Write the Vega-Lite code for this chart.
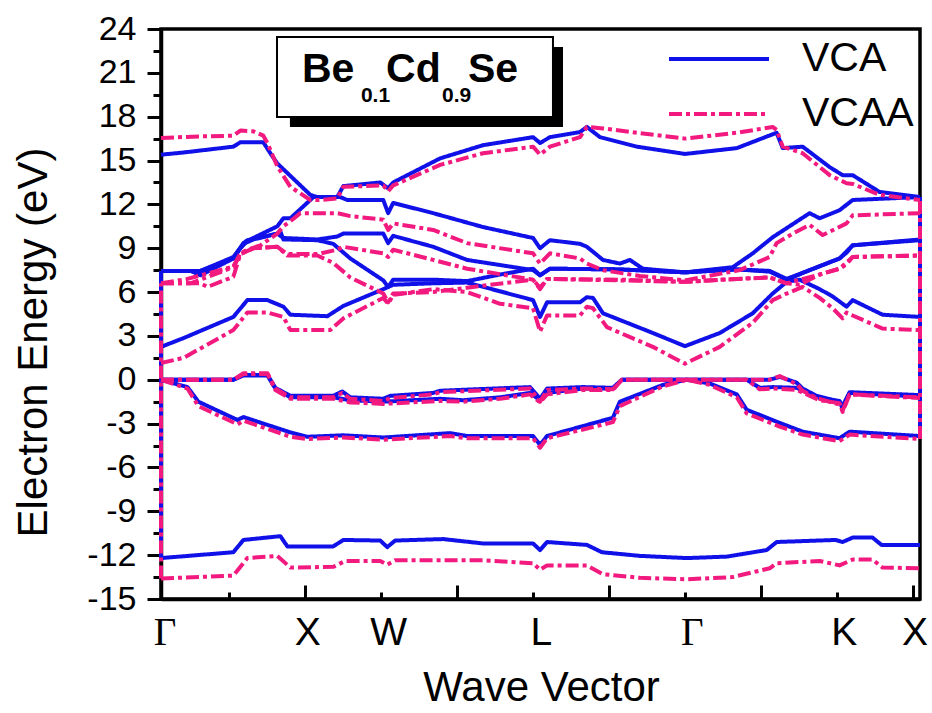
{
  "$schema": "https://vega.github.io/schema/vega-lite/v6.json",
  "width": 759,
  "height": 570,
  "autosize": "none",
  "padding": {"left": 161, "top": 29, "right": 12, "bottom": 114},
  "config": {
    "view": {"stroke": "black", "strokeWidth": 3.5},
    "font": "Liberation Sans"
  },
  "datasets": {
    "bands": [
      {"m":"VCA","b":"V1","k":0.054,"E":-12.2},{"m":"VCA","b":"V1","k":0.530,"E":-11.8},{"m":"VCA","b":"V1","k":0.596,"E":-10.96},{"m":"VCA","b":"V1","k":0.839,"E":-10.7},{"m":"VCA","b":"V1","k":0.885,"E":-11.4},{"m":"VCA","b":"V1","k":1.187,"E":-11.4},{"m":"VCA","b":"V1","k":1.253,"E":-10.96},{"m":"VCA","b":"V1","k":1.496,"E":-11.0},{"m":"VCA","b":"V1","k":1.542,"E":-11.45},{"m":"VCA","b":"V1","k":1.594,"E":-11.0},{"m":"VCA","b":"V1","k":1.910,"E":-10.9},{"m":"VCA","b":"V1","k":2.172,"E":-11.2},{"m":"VCA","b":"V1","k":2.501,"E":-11.2},{"m":"VCA","b":"V1","k":2.547,"E":-11.65},{"m":"VCA","b":"V1","k":2.593,"E":-11.1},{"m":"VCA","b":"V1","k":2.855,"E":-11.3},{"m":"VCA","b":"V1","k":2.954,"E":-11.8},{"m":"VCA","b":"V1","k":3.204,"E":-12.05},{"m":"VCA","b":"V1","k":3.512,"E":-12.2},{"m":"VCA","b":"V1","k":3.775,"E":-12.1},{"m":"VCA","b":"V1","k":4.038,"E":-11.65},{"m":"VCA","b":"V1","k":4.103,"E":-11.1},{"m":"VCA","b":"V1","k":4.491,"E":-10.96},{"m":"VCA","b":"V1","k":4.537,"E":-11.1},{"m":"VCA","b":"V1","k":4.603,"E":-10.8},{"m":"VCA","b":"V1","k":4.734,"E":-10.8},{"m":"VCA","b":"V1","k":4.793,"E":-11.3},{"m":"VCA","b":"V1","k":5.046,"E":-11.3},

      {"m":"VCA","b":"V2","k":0.054,"E":0},{"m":"VCA","b":"V2","k":0.228,"E":-0.5},{"m":"VCA","b":"V2","k":0.300,"E":-1.5},{"m":"VCA","b":"V2","k":0.557,"E":-2.75},{"m":"VCA","b":"V2","k":0.596,"E":-2.55},{"m":"VCA","b":"V2","k":0.905,"E":-3.6},{"m":"VCA","b":"V2","k":1.016,"E":-3.9},{"m":"VCA","b":"V2","k":1.253,"E":-3.8},{"m":"VCA","b":"V2","k":1.516,"E":-3.95},{"m":"VCA","b":"V2","k":1.956,"E":-3.65},{"m":"VCA","b":"V2","k":2.067,"E":-3.85},{"m":"VCA","b":"V2","k":2.501,"E":-3.85},{"m":"VCA","b":"V2","k":2.547,"E":-4.45},{"m":"VCA","b":"V2","k":2.593,"E":-3.85},{"m":"VCA","b":"V2","k":3.026,"E":-2.6},{"m":"VCA","b":"V2","k":3.072,"E":-1.5},{"m":"VCA","b":"V2","k":3.355,"E":-0.35},{"m":"VCA","b":"V2","k":3.512,"E":0},{"m":"VCA","b":"V2","k":3.663,"E":-0.25},{"m":"VCA","b":"V2","k":3.841,"E":-1.0},{"m":"VCA","b":"V2","k":3.906,"E":-2.05},{"m":"VCA","b":"V2","k":4.123,"E":-2.95},{"m":"VCA","b":"V2","k":4.274,"E":-3.55},{"m":"VCA","b":"V2","k":4.517,"E":-4.0},{"m":"VCA","b":"V2","k":4.583,"E":-3.55},{"m":"VCA","b":"V2","k":5.046,"E":-3.85},

      {"m":"VCA","b":"V3a","k":0.054,"E":0},{"m":"VCA","b":"V3a","k":0.530,"E":0},{"m":"VCA","b":"V3a","k":0.596,"E":0.33},{"m":"VCA","b":"V3a","k":0.754,"E":0.33},{"m":"VCA","b":"V3a","k":0.806,"E":-0.55},{"m":"VCA","b":"V3a","k":0.905,"E":-1.1},{"m":"VCA","b":"V3a","k":1.187,"E":-1.1},{"m":"VCA","b":"V3a","k":1.246,"E":-0.8},{"m":"VCA","b":"V3a","k":1.299,"E":-1.2},{"m":"VCA","b":"V3a","k":1.516,"E":-1.3},{"m":"VCA","b":"V3a","k":1.562,"E":-1.1},{"m":"VCA","b":"V3a","k":1.844,"E":-0.9},{"m":"VCA","b":"V3a","k":1.890,"E":-0.75},{"m":"VCA","b":"V3a","k":2.481,"E":-0.5},{"m":"VCA","b":"V3a","k":2.547,"E":-1.3},{"m":"VCA","b":"V3a","k":2.593,"E":-0.6},{"m":"VCA","b":"V3a","k":2.829,"E":-0.5},{"m":"VCA","b":"V3a","k":3.026,"E":-0.55},{"m":"VCA","b":"V3a","k":3.085,"E":0},{"m":"VCA","b":"V3a","k":3.906,"E":0},{"m":"VCA","b":"V3a","k":4.057,"E":0},{"m":"VCA","b":"V3a","k":4.123,"E":0.2},{"m":"VCA","b":"V3a","k":4.235,"E":-0.2},{"m":"VCA","b":"V3a","k":4.274,"E":-0.6},{"m":"VCA","b":"V3a","k":4.366,"E":-1.1},{"m":"VCA","b":"V3a","k":4.517,"E":-1.5},{"m":"VCA","b":"V3a","k":4.537,"E":-1.8},{"m":"VCA","b":"V3a","k":4.583,"E":-0.85},{"m":"VCA","b":"V3a","k":5.046,"E":-1.05},

      {"m":"VCA","b":"V3b","k":0.054,"E":0},{"m":"VCA","b":"V3b","k":0.530,"E":0},{"m":"VCA","b":"V3b","k":0.596,"E":0.3},{"m":"VCA","b":"V3b","k":0.754,"E":0.3},{"m":"VCA","b":"V3b","k":0.806,"E":-0.6},{"m":"VCA","b":"V3b","k":0.905,"E":-1.2},{"m":"VCA","b":"V3b","k":1.187,"E":-1.2},{"m":"VCA","b":"V3b","k":1.299,"E":-1.4},{"m":"VCA","b":"V3b","k":1.516,"E":-1.5},{"m":"VCA","b":"V3b","k":1.890,"E":-1.3},{"m":"VCA","b":"V3b","k":2.041,"E":-1.4},{"m":"VCA","b":"V3b","k":2.284,"E":-1.2},{"m":"VCA","b":"V3b","k":2.481,"E":-0.9},{"m":"VCA","b":"V3b","k":2.547,"E":-1.4},{"m":"VCA","b":"V3b","k":2.593,"E":-0.9},{"m":"VCA","b":"V3b","k":2.829,"E":-0.6},{"m":"VCA","b":"V3b","k":3.026,"E":-0.6},{"m":"VCA","b":"V3b","k":3.085,"E":0},{"m":"VCA","b":"V3b","k":3.906,"E":0},{"m":"VCA","b":"V3b","k":3.992,"E":-0.55},{"m":"VCA","b":"V3b","k":4.077,"E":-0.5},{"m":"VCA","b":"V3b","k":4.235,"E":-0.55},{"m":"VCA","b":"V3b","k":4.386,"E":-1.25},{"m":"VCA","b":"V3b","k":4.517,"E":-1.45},{"m":"VCA","b":"V3b","k":4.537,"E":-2.0},{"m":"VCA","b":"V3b","k":4.583,"E":-0.9},{"m":"VCA","b":"V3b","k":5.046,"E":-1.15},

      {"m":"VCA","b":"B1","k":0.054,"E":2.25},{"m":"VCA","b":"B1","k":0.202,"E":2.85},{"m":"VCA","b":"B1","k":0.530,"E":4.3},{"m":"VCA","b":"B1","k":0.622,"E":5.45},{"m":"VCA","b":"B1","k":0.754,"E":5.45},{"m":"VCA","b":"B1","k":0.859,"E":5.0},{"m":"VCA","b":"B1","k":0.905,"E":4.45},{"m":"VCA","b":"B1","k":1.148,"E":4.35},{"m":"VCA","b":"B1","k":1.253,"E":5.05},{"m":"VCA","b":"B1","k":1.516,"E":6.2},{"m":"VCA","b":"B1","k":1.581,"E":6.5},{"m":"VCA","b":"B1","k":1.844,"E":6.6},{"m":"VCA","b":"B1","k":2.067,"E":6.65},{"m":"VCA","b":"B1","k":2.501,"E":5.45},{"m":"VCA","b":"B1","k":2.547,"E":4.3},{"m":"VCA","b":"B1","k":2.593,"E":5.3},{"m":"VCA","b":"B1","k":2.810,"E":5.3},{"m":"VCA","b":"B1","k":2.855,"E":5.65},{"m":"VCA","b":"B1","k":2.895,"E":5.6},{"m":"VCA","b":"B1","k":2.961,"E":4.55},{"m":"VCA","b":"B1","k":3.289,"E":3.2},{"m":"VCA","b":"B1","k":3.5,"E":2.3},{"m":"VCA","b":"B1","k":3.729,"E":3.2},{"m":"VCA","b":"B1","k":3.946,"E":4.55},{"m":"VCA","b":"B1","k":4.077,"E":5.9},{"m":"VCA","b":"B1","k":4.169,"E":6.7},{"m":"VCA","b":"B1","k":4.254,"E":6.85},{"m":"VCA","b":"B1","k":4.386,"E":6.2},{"m":"VCA","b":"B1","k":4.471,"E":5.7},{"m":"VCA","b":"B1","k":4.537,"E":5.2},{"m":"VCA","b":"B1","k":4.563,"E":5.0},{"m":"VCA","b":"B1","k":4.603,"E":5.45},{"m":"VCA","b":"B1","k":4.800,"E":4.45},{"m":"VCA","b":"B1","k":5.046,"E":4.3},

      {"m":"VCA","b":"B2","k":0.054,"E":7.45},{"m":"VCA","b":"B2","k":0.248,"E":7.45},{"m":"VCA","b":"B2","k":0.314,"E":7.15},{"m":"VCA","b":"B2","k":0.530,"E":8.3},{"m":"VCA","b":"B2","k":0.596,"E":9.35},{"m":"VCA","b":"B2","k":0.622,"E":9.55},{"m":"VCA","b":"B2","k":0.819,"E":10.0},{"m":"VCA","b":"B2","k":0.839,"E":10.15},{"m":"VCA","b":"B2","k":0.859,"E":9.6},{"m":"VCA","b":"B2","k":1.082,"E":9.55},{"m":"VCA","b":"B2","k":1.187,"E":9.3},{"m":"VCA","b":"B2","k":1.299,"E":8.3},{"m":"VCA","b":"B2","k":1.516,"E":6.8},{"m":"VCA","b":"B2","k":1.548,"E":6.35},{"m":"VCA","b":"B2","k":1.581,"E":6.85},{"m":"VCA","b":"B2","k":1.844,"E":6.85},{"m":"VCA","b":"B2","k":2.067,"E":6.75},{"m":"VCA","b":"B2","k":2.284,"E":7.2},{"m":"VCA","b":"B2","k":2.501,"E":7.6},{"m":"VCA","b":"B2","k":2.547,"E":7.15},{"m":"VCA","b":"B2","k":2.612,"E":7.6},{"m":"VCA","b":"B2","k":3.072,"E":7.55},{"m":"VCA","b":"B2","k":3.5,"E":7.35},{"m":"VCA","b":"B2","k":3.841,"E":7.55},{"m":"VCA","b":"B2","k":4.057,"E":7.4},{"m":"VCA","b":"B2","k":4.169,"E":6.85},{"m":"VCA","b":"B2","k":4.320,"E":7.5},{"m":"VCA","b":"B2","k":4.517,"E":8.3},{"m":"VCA","b":"B2","k":4.563,"E":8.7},{"m":"VCA","b":"B2","k":4.603,"E":9.2},{"m":"VCA","b":"B2","k":5.046,"E":9.55},

      {"m":"VCA","b":"B3","k":0.054,"E":7.45},{"m":"VCA","b":"B3","k":0.314,"E":7.45},{"m":"VCA","b":"B3","k":0.530,"E":8.3},{"m":"VCA","b":"B3","k":0.576,"E":9.0},{"m":"VCA","b":"B3","k":0.622,"E":9.5},{"m":"VCA","b":"B3","k":0.819,"E":10.5},{"m":"VCA","b":"B3","k":0.859,"E":11.05},{"m":"VCA","b":"B3","k":0.905,"E":11.05},{"m":"VCA","b":"B3","k":1.036,"E":12.3},{"m":"VCA","b":"B3","k":1.056,"E":12.5},{"m":"VCA","b":"B3","k":1.233,"E":12.5},{"m":"VCA","b":"B3","k":1.279,"E":12.3},{"m":"VCA","b":"B3","k":1.516,"E":12.3},{"m":"VCA","b":"B3","k":1.548,"E":11.4},{"m":"VCA","b":"B3","k":1.581,"E":12.1},{"m":"VCA","b":"B3","k":1.844,"E":11.4},{"m":"VCA","b":"B3","k":2.172,"E":10.45},{"m":"VCA","b":"B3","k":2.501,"E":9.7},{"m":"VCA","b":"B3","k":2.547,"E":9.0},{"m":"VCA","b":"B3","k":2.612,"E":9.55},{"m":"VCA","b":"B3","k":2.810,"E":9.3},{"m":"VCA","b":"B3","k":2.855,"E":9.1},{"m":"VCA","b":"B3","k":2.961,"E":8.2},{"m":"VCA","b":"B3","k":3.072,"E":7.95},{"m":"VCA","b":"B3","k":3.138,"E":8.2},{"m":"VCA","b":"B3","k":3.223,"E":7.6},{"m":"VCA","b":"B3","k":3.5,"E":7.35},{"m":"VCA","b":"B3","k":3.814,"E":7.7},{"m":"VCA","b":"B3","k":3.946,"E":8.65},{"m":"VCA","b":"B3","k":4.077,"E":9.75},{"m":"VCA","b":"B3","k":4.320,"E":11.4},{"m":"VCA","b":"B3","k":4.386,"E":11.05},{"m":"VCA","b":"B3","k":4.517,"E":11.6},{"m":"VCA","b":"B3","k":4.603,"E":12.3},{"m":"VCA","b":"B3","k":5.046,"E":12.5},

      {"m":"VCA","b":"B4","k":0.054,"E":7.45},{"m":"VCA","b":"B4","k":0.314,"E":7.45},{"m":"VCA","b":"B4","k":0.530,"E":8.4},{"m":"VCA","b":"B4","k":0.596,"E":9.3},{"m":"VCA","b":"B4","k":0.662,"E":9.6},{"m":"VCA","b":"B4","k":0.819,"E":10.0},{"m":"VCA","b":"B4","k":0.859,"E":9.7},{"m":"VCA","b":"B4","k":1.082,"E":9.6},{"m":"VCA","b":"B4","k":1.213,"E":9.8},{"m":"VCA","b":"B4","k":1.253,"E":10.0},{"m":"VCA","b":"B4","k":1.516,"E":10.0},{"m":"VCA","b":"B4","k":1.548,"E":9.35},{"m":"VCA","b":"B4","k":1.581,"E":9.85},{"m":"VCA","b":"B4","k":1.844,"E":9.1},{"m":"VCA","b":"B4","k":2.067,"E":8.2},{"m":"VCA","b":"B4","k":2.501,"E":7.5},{"m":"VCA","b":"B4","k":2.547,"E":7.15},{"m":"VCA","b":"B4","k":2.612,"E":7.6},{"m":"VCA","b":"B4","k":3.072,"E":7.55},{"m":"VCA","b":"B4","k":3.5,"E":7.35},{"m":"VCA","b":"B4","k":3.841,"E":7.55},{"m":"VCA","b":"B4","k":4.057,"E":7.45},{"m":"VCA","b":"B4","k":4.169,"E":6.9},{"m":"VCA","b":"B4","k":4.320,"E":7.5},{"m":"VCA","b":"B4","k":4.517,"E":8.3},{"m":"VCA","b":"B4","k":4.603,"E":9.2},{"m":"VCA","b":"B4","k":5.046,"E":9.6},

      {"m":"VCA","b":"B5","k":0.054,"E":15.4},{"m":"VCA","b":"B5","k":0.202,"E":15.55},{"m":"VCA","b":"B5","k":0.530,"E":15.95},{"m":"VCA","b":"B5","k":0.576,"E":16.25},{"m":"VCA","b":"B5","k":0.727,"E":16.25},{"m":"VCA","b":"B5","k":0.773,"E":15.5},{"m":"VCA","b":"B5","k":0.819,"E":14.8},{"m":"VCA","b":"B5","k":1.036,"E":12.65},{"m":"VCA","b":"B5","k":1.082,"E":12.5},{"m":"VCA","b":"B5","k":1.213,"E":12.5},{"m":"VCA","b":"B5","k":1.253,"E":13.25},{"m":"VCA","b":"B5","k":1.496,"E":13.5},{"m":"VCA","b":"B5","k":1.548,"E":13.1},{"m":"VCA","b":"B5","k":1.581,"E":13.5},{"m":"VCA","b":"B5","k":1.890,"E":15.15},{"m":"VCA","b":"B5","k":2.172,"E":16.05},{"m":"VCA","b":"B5","k":2.501,"E":16.6},{"m":"VCA","b":"B5","k":2.547,"E":16.2},{"m":"VCA","b":"B5","k":2.612,"E":16.6},{"m":"VCA","b":"B5","k":2.810,"E":16.95},{"m":"VCA","b":"B5","k":2.855,"E":17.3},{"m":"VCA","b":"B5","k":2.941,"E":16.6},{"m":"VCA","b":"B5","k":3.184,"E":15.95},{"m":"VCA","b":"B5","k":3.5,"E":15.45},{"m":"VCA","b":"B5","k":3.841,"E":15.85},{"m":"VCA","b":"B5","k":4.103,"E":16.9},{"m":"VCA","b":"B5","k":4.143,"E":15.85},{"m":"VCA","b":"B5","k":4.274,"E":15.95},{"m":"VCA","b":"B5","k":4.452,"E":14.55},{"m":"VCA","b":"B5","k":4.537,"E":14.0},{"m":"VCA","b":"B5","k":4.603,"E":14.0},{"m":"VCA","b":"B5","k":4.780,"E":12.85},{"m":"VCA","b":"B5","k":5.046,"E":12.5},

      {"m":"VCA","b":"VL","k":0.054,"E":-12.2},{"m":"VCA","b":"VL","k":0.054,"E":7.45},
      {"m":"VCA","b":"VR","k":5.046,"E":-3.85},{"m":"VCA","b":"VR","k":5.046,"E":12.5},

      {"m":"VCAA","b":"A1","k":0.054,"E":-13.6},{"m":"VCAA","b":"A1","k":0.530,"E":-13.4},{"m":"VCAA","b":"A1","k":0.622,"E":-12.2},{"m":"VCAA","b":"A1","k":0.819,"E":-12.05},{"m":"VCAA","b":"A1","k":0.905,"E":-12.85},{"m":"VCAA","b":"A1","k":1.187,"E":-12.8},{"m":"VCAA","b":"A1","k":1.266,"E":-12.4},{"m":"VCAA","b":"A1","k":1.496,"E":-12.4},{"m":"VCAA","b":"A1","k":1.542,"E":-12.65},{"m":"VCAA","b":"A1","k":1.594,"E":-12.35},{"m":"VCAA","b":"A1","k":2.172,"E":-12.35},{"m":"VCAA","b":"A1","k":2.501,"E":-12.55},{"m":"VCAA","b":"A1","k":2.547,"E":-13.0},{"m":"VCAA","b":"A1","k":2.593,"E":-12.7},{"m":"VCAA","b":"A1","k":2.855,"E":-12.7},{"m":"VCAA","b":"A1","k":2.961,"E":-13.3},{"m":"VCAA","b":"A1","k":3.204,"E":-13.55},{"m":"VCAA","b":"A1","k":3.512,"E":-13.65},{"m":"VCAA","b":"A1","k":3.814,"E":-13.5},{"m":"VCAA","b":"A1","k":4.057,"E":-12.9},{"m":"VCAA","b":"A1","k":4.103,"E":-12.55},{"m":"VCAA","b":"A1","k":4.386,"E":-12.4},{"m":"VCAA","b":"A1","k":4.517,"E":-12.7},{"m":"VCAA","b":"A1","k":4.603,"E":-12.3},{"m":"VCAA","b":"A1","k":4.734,"E":-12.3},{"m":"VCAA","b":"A1","k":4.800,"E":-12.85},{"m":"VCAA","b":"A1","k":5.046,"E":-12.9},

      {"m":"VCAA","b":"A2","k":0.054,"E":0},{"m":"VCAA","b":"A2","k":0.228,"E":-0.6},{"m":"VCAA","b":"A2","k":0.300,"E":-1.8},{"m":"VCAA","b":"A2","k":0.557,"E":-3.05},{"m":"VCAA","b":"A2","k":0.596,"E":-2.8},{"m":"VCAA","b":"A2","k":0.905,"E":-3.9},{"m":"VCAA","b":"A2","k":1.016,"E":-4.05},{"m":"VCAA","b":"A2","k":1.253,"E":-3.95},{"m":"VCAA","b":"A2","k":1.516,"E":-4.1},{"m":"VCAA","b":"A2","k":1.956,"E":-3.85},{"m":"VCAA","b":"A2","k":2.067,"E":-4.0},{"m":"VCAA","b":"A2","k":2.501,"E":-4.0},{"m":"VCAA","b":"A2","k":2.547,"E":-4.65},{"m":"VCAA","b":"A2","k":2.593,"E":-4.0},{"m":"VCAA","b":"A2","k":3.026,"E":-2.9},{"m":"VCAA","b":"A2","k":3.072,"E":-1.8},{"m":"VCAA","b":"A2","k":3.355,"E":-0.45},{"m":"VCAA","b":"A2","k":3.512,"E":0},{"m":"VCAA","b":"A2","k":3.663,"E":-0.35},{"m":"VCAA","b":"A2","k":3.841,"E":-1.2},{"m":"VCAA","b":"A2","k":3.906,"E":-2.3},{"m":"VCAA","b":"A2","k":4.123,"E":-3.2},{"m":"VCAA","b":"A2","k":4.274,"E":-3.75},{"m":"VCAA","b":"A2","k":4.517,"E":-4.2},{"m":"VCAA","b":"A2","k":4.583,"E":-3.75},{"m":"VCAA","b":"A2","k":5.046,"E":-4.05},

      {"m":"VCAA","b":"A3a","k":0.054,"E":0},{"m":"VCAA","b":"A3a","k":0.530,"E":0},{"m":"VCAA","b":"A3a","k":0.596,"E":0.45},{"m":"VCAA","b":"A3a","k":0.754,"E":0.45},{"m":"VCAA","b":"A3a","k":0.806,"E":-0.6},{"m":"VCAA","b":"A3a","k":0.905,"E":-1.2},{"m":"VCAA","b":"A3a","k":1.187,"E":-1.2},{"m":"VCAA","b":"A3a","k":1.246,"E":-0.9},{"m":"VCAA","b":"A3a","k":1.299,"E":-1.3},{"m":"VCAA","b":"A3a","k":1.516,"E":-1.45},{"m":"VCAA","b":"A3a","k":1.562,"E":-1.25},{"m":"VCAA","b":"A3a","k":1.844,"E":-1.0},{"m":"VCAA","b":"A3a","k":1.890,"E":-0.85},{"m":"VCAA","b":"A3a","k":2.481,"E":-0.6},{"m":"VCAA","b":"A3a","k":2.547,"E":-1.5},{"m":"VCAA","b":"A3a","k":2.593,"E":-0.7},{"m":"VCAA","b":"A3a","k":2.829,"E":-0.6},{"m":"VCAA","b":"A3a","k":3.026,"E":-0.65},{"m":"VCAA","b":"A3a","k":3.085,"E":0},{"m":"VCAA","b":"A3a","k":3.906,"E":0},{"m":"VCAA","b":"A3a","k":4.057,"E":0},{"m":"VCAA","b":"A3a","k":4.123,"E":0.25},{"m":"VCAA","b":"A3a","k":4.235,"E":-0.3},{"m":"VCAA","b":"A3a","k":4.274,"E":-0.75},{"m":"VCAA","b":"A3a","k":4.366,"E":-1.25},{"m":"VCAA","b":"A3a","k":4.517,"E":-1.7},{"m":"VCAA","b":"A3a","k":4.537,"E":-2.1},{"m":"VCAA","b":"A3a","k":4.583,"E":-1.0},{"m":"VCAA","b":"A3a","k":5.046,"E":-1.2},

      {"m":"VCAA","b":"A3b","k":0.054,"E":0},{"m":"VCAA","b":"A3b","k":0.530,"E":0},{"m":"VCAA","b":"A3b","k":0.596,"E":0.4},{"m":"VCAA","b":"A3b","k":0.754,"E":0.4},{"m":"VCAA","b":"A3b","k":0.806,"E":-0.7},{"m":"VCAA","b":"A3b","k":0.905,"E":-1.3},{"m":"VCAA","b":"A3b","k":1.187,"E":-1.3},{"m":"VCAA","b":"A3b","k":1.299,"E":-1.55},{"m":"VCAA","b":"A3b","k":1.516,"E":-1.65},{"m":"VCAA","b":"A3b","k":1.890,"E":-1.45},{"m":"VCAA","b":"A3b","k":2.041,"E":-1.5},{"m":"VCAA","b":"A3b","k":2.284,"E":-1.3},{"m":"VCAA","b":"A3b","k":2.481,"E":-1.0},{"m":"VCAA","b":"A3b","k":2.547,"E":-1.55},{"m":"VCAA","b":"A3b","k":2.593,"E":-1.0},{"m":"VCAA","b":"A3b","k":2.829,"E":-0.7},{"m":"VCAA","b":"A3b","k":3.026,"E":-0.7},{"m":"VCAA","b":"A3b","k":3.085,"E":0},{"m":"VCAA","b":"A3b","k":3.906,"E":0},{"m":"VCAA","b":"A3b","k":3.992,"E":-0.65},{"m":"VCAA","b":"A3b","k":4.077,"E":-0.6},{"m":"VCAA","b":"A3b","k":4.235,"E":-0.7},{"m":"VCAA","b":"A3b","k":4.386,"E":-1.4},{"m":"VCAA","b":"A3b","k":4.517,"E":-1.6},{"m":"VCAA","b":"A3b","k":4.537,"E":-2.2},{"m":"VCAA","b":"A3b","k":4.583,"E":-1.0},{"m":"VCAA","b":"A3b","k":5.046,"E":-1.25},

      {"m":"VCAA","b":"P1","k":0.054,"E":1.15},{"m":"VCAA","b":"P1","k":0.202,"E":1.5},{"m":"VCAA","b":"P1","k":0.530,"E":3.4},{"m":"VCAA","b":"P1","k":0.622,"E":4.6},{"m":"VCAA","b":"P1","k":0.754,"E":4.6},{"m":"VCAA","b":"P1","k":0.859,"E":4.3},{"m":"VCAA","b":"P1","k":0.905,"E":3.4},{"m":"VCAA","b":"P1","k":1.167,"E":3.4},{"m":"VCAA","b":"P1","k":1.253,"E":4.2},{"m":"VCAA","b":"P1","k":1.516,"E":5.6},{"m":"VCAA","b":"P1","k":1.548,"E":5.2},{"m":"VCAA","b":"P1","k":1.581,"E":5.8},{"m":"VCAA","b":"P1","k":1.844,"E":6.2},{"m":"VCAA","b":"P1","k":2.067,"E":6.0},{"m":"VCAA","b":"P1","k":2.284,"E":5.2},{"m":"VCAA","b":"P1","k":2.501,"E":4.9},{"m":"VCAA","b":"P1","k":2.547,"E":3.3},{"m":"VCAA","b":"P1","k":2.593,"E":4.4},{"m":"VCAA","b":"P1","k":2.810,"E":4.4},{"m":"VCAA","b":"P1","k":2.855,"E":5.0},{"m":"VCAA","b":"P1","k":2.895,"E":4.9},{"m":"VCAA","b":"P1","k":2.987,"E":3.6},{"m":"VCAA","b":"P1","k":3.289,"E":2.25},{"m":"VCAA","b":"P1","k":3.5,"E":1.1},{"m":"VCAA","b":"P1","k":3.729,"E":2.25},{"m":"VCAA","b":"P1","k":3.946,"E":3.9},{"m":"VCAA","b":"P1","k":4.077,"E":5.45},{"m":"VCAA","b":"P1","k":4.169,"E":5.9},{"m":"VCAA","b":"P1","k":4.274,"E":6.35},{"m":"VCAA","b":"P1","k":4.386,"E":5.6},{"m":"VCAA","b":"P1","k":4.471,"E":4.9},{"m":"VCAA","b":"P1","k":4.537,"E":4.2},{"m":"VCAA","b":"P1","k":4.563,"E":4.6},{"m":"VCAA","b":"P1","k":4.603,"E":4.4},{"m":"VCAA","b":"P1","k":4.800,"E":3.5},{"m":"VCAA","b":"P1","k":5.046,"E":3.4},

      {"m":"VCAA","b":"P2","k":0.054,"E":6.6},{"m":"VCAA","b":"P2","k":0.314,"E":6.6},{"m":"VCAA","b":"P2","k":0.360,"E":6.35},{"m":"VCAA","b":"P2","k":0.530,"E":7.05},{"m":"VCAA","b":"P2","k":0.576,"E":8.6},{"m":"VCAA","b":"P2","k":0.662,"E":9.0},{"m":"VCAA","b":"P2","k":0.819,"E":9.1},{"m":"VCAA","b":"P2","k":0.885,"E":8.5},{"m":"VCAA","b":"P2","k":1.082,"E":8.5},{"m":"VCAA","b":"P2","k":1.187,"E":8.0},{"m":"VCAA","b":"P2","k":1.299,"E":7.0},{"m":"VCAA","b":"P2","k":1.516,"E":5.9},{"m":"VCAA","b":"P2","k":1.548,"E":5.3},{"m":"VCAA","b":"P2","k":1.581,"E":5.9},{"m":"VCAA","b":"P2","k":1.844,"E":6.0},{"m":"VCAA","b":"P2","k":2.067,"E":6.3},{"m":"VCAA","b":"P2","k":2.501,"E":6.85},{"m":"VCAA","b":"P2","k":2.547,"E":6.2},{"m":"VCAA","b":"P2","k":2.593,"E":6.9},{"m":"VCAA","b":"P2","k":3.072,"E":6.85},{"m":"VCAA","b":"P2","k":3.5,"E":6.7},{"m":"VCAA","b":"P2","k":3.841,"E":6.9},{"m":"VCAA","b":"P2","k":4.057,"E":7.0},{"m":"VCAA","b":"P2","k":4.169,"E":6.6},{"m":"VCAA","b":"P2","k":4.254,"E":6.5},{"m":"VCAA","b":"P2","k":4.386,"E":7.2},{"m":"VCAA","b":"P2","k":4.517,"E":7.6},{"m":"VCAA","b":"P2","k":4.563,"E":7.9},{"m":"VCAA","b":"P2","k":4.603,"E":8.4},{"m":"VCAA","b":"P2","k":5.046,"E":8.5},

      {"m":"VCAA","b":"P3","k":0.054,"E":6.6},{"m":"VCAA","b":"P3","k":0.228,"E":6.9},{"m":"VCAA","b":"P3","k":0.530,"E":7.75},{"m":"VCAA","b":"P3","k":0.576,"E":8.65},{"m":"VCAA","b":"P3","k":0.622,"E":8.9},{"m":"VCAA","b":"P3","k":0.708,"E":9.2},{"m":"VCAA","b":"P3","k":0.819,"E":10.0},{"m":"VCAA","b":"P3","k":0.859,"E":10.5},{"m":"VCAA","b":"P3","k":0.924,"E":11.0},{"m":"VCAA","b":"P3","k":0.970,"E":11.4},{"m":"VCAA","b":"P3","k":1.213,"E":11.4},{"m":"VCAA","b":"P3","k":1.299,"E":11.2},{"m":"VCAA","b":"P3","k":1.516,"E":10.95},{"m":"VCAA","b":"P3","k":1.548,"E":10.25},{"m":"VCAA","b":"P3","k":1.581,"E":10.7},{"m":"VCAA","b":"P3","k":1.844,"E":10.25},{"m":"VCAA","b":"P3","k":2.067,"E":9.35},{"m":"VCAA","b":"P3","k":2.501,"E":8.65},{"m":"VCAA","b":"P3","k":2.547,"E":7.95},{"m":"VCAA","b":"P3","k":2.612,"E":8.65},{"m":"VCAA","b":"P3","k":2.810,"E":8.3},{"m":"VCAA","b":"P3","k":2.855,"E":7.95},{"m":"VCAA","b":"P3","k":2.961,"E":7.5},{"m":"VCAA","b":"P3","k":3.204,"E":7.1},{"m":"VCAA","b":"P3","k":3.5,"E":6.8},{"m":"VCAA","b":"P3","k":3.860,"E":7.5},{"m":"VCAA","b":"P3","k":4.057,"E":8.4},{"m":"VCAA","b":"P3","k":4.103,"E":9.35},{"m":"VCAA","b":"P3","k":4.209,"E":10.0},{"m":"VCAA","b":"P3","k":4.320,"E":10.6},{"m":"VCAA","b":"P3","k":4.406,"E":9.9},{"m":"VCAA","b":"P3","k":4.563,"E":10.7},{"m":"VCAA","b":"P3","k":4.603,"E":11.25},{"m":"VCAA","b":"P3","k":5.046,"E":11.4},

      {"m":"VCAA","b":"P4","k":0.054,"E":6.6},{"m":"VCAA","b":"P4","k":0.248,"E":6.6},{"m":"VCAA","b":"P4","k":0.530,"E":7.7},{"m":"VCAA","b":"P4","k":0.576,"E":8.6},{"m":"VCAA","b":"P4","k":0.662,"E":9.0},{"m":"VCAA","b":"P4","k":0.819,"E":9.1},{"m":"VCAA","b":"P4","k":0.885,"E":8.6},{"m":"VCAA","b":"P4","k":1.082,"E":8.6},{"m":"VCAA","b":"P4","k":1.213,"E":8.9},{"m":"VCAA","b":"P4","k":1.253,"E":9.1},{"m":"VCAA","b":"P4","k":1.516,"E":8.65},{"m":"VCAA","b":"P4","k":1.548,"E":8.4},{"m":"VCAA","b":"P4","k":1.581,"E":8.9},{"m":"VCAA","b":"P4","k":1.844,"E":8.2},{"m":"VCAA","b":"P4","k":2.067,"E":7.6},{"m":"VCAA","b":"P4","k":2.501,"E":6.85},{"m":"VCAA","b":"P4","k":2.547,"E":6.3},{"m":"VCAA","b":"P4","k":2.593,"E":6.9},{"m":"VCAA","b":"P4","k":3.072,"E":6.8},{"m":"VCAA","b":"P4","k":3.5,"E":6.7},{"m":"VCAA","b":"P4","k":3.841,"E":6.9},{"m":"VCAA","b":"P4","k":4.057,"E":7.0},{"m":"VCAA","b":"P4","k":4.169,"E":6.6},{"m":"VCAA","b":"P4","k":4.386,"E":7.2},{"m":"VCAA","b":"P4","k":4.517,"E":7.6},{"m":"VCAA","b":"P4","k":4.603,"E":8.4},{"m":"VCAA","b":"P4","k":5.046,"E":8.5},

      {"m":"VCAA","b":"P5","k":0.054,"E":16.55},{"m":"VCAA","b":"P5","k":0.314,"E":16.65},{"m":"VCAA","b":"P5","k":0.530,"E":16.7},{"m":"VCAA","b":"P5","k":0.576,"E":17.05},{"m":"VCAA","b":"P5","k":0.662,"E":17.0},{"m":"VCAA","b":"P5","k":0.727,"E":16.7},{"m":"VCAA","b":"P5","k":0.754,"E":16.2},{"m":"VCAA","b":"P5","k":0.819,"E":14.6},{"m":"VCAA","b":"P5","k":0.905,"E":13.2},{"m":"VCAA","b":"P5","k":1.036,"E":12.3},{"m":"VCAA","b":"P5","k":1.102,"E":12.3},{"m":"VCAA","b":"P5","k":1.213,"E":12.4},{"m":"VCAA","b":"P5","k":1.253,"E":13.2},{"m":"VCAA","b":"P5","k":1.516,"E":13.3},{"m":"VCAA","b":"P5","k":1.548,"E":12.9},{"m":"VCAA","b":"P5","k":1.581,"E":13.3},{"m":"VCAA","b":"P5","k":1.890,"E":14.7},{"m":"VCAA","b":"P5","k":2.172,"E":15.5},{"m":"VCAA","b":"P5","k":2.501,"E":15.95},{"m":"VCAA","b":"P5","k":2.547,"E":15.4},{"m":"VCAA","b":"P5","k":2.612,"E":15.95},{"m":"VCAA","b":"P5","k":2.810,"E":16.6},{"m":"VCAA","b":"P5","k":2.855,"E":17.3},{"m":"VCAA","b":"P5","k":2.961,"E":17.2},{"m":"VCAA","b":"P5","k":3.184,"E":16.9},{"m":"VCAA","b":"P5","k":3.5,"E":16.5},{"m":"VCAA","b":"P5","k":3.841,"E":16.9},{"m":"VCAA","b":"P5","k":4.077,"E":17.3},{"m":"VCAA","b":"P5","k":4.103,"E":17.1},{"m":"VCAA","b":"P5","k":4.143,"E":15.95},{"m":"VCAA","b":"P5","k":4.274,"E":15.5},{"m":"VCAA","b":"P5","k":4.452,"E":14.0},{"m":"VCAA","b":"P5","k":4.563,"E":13.45},{"m":"VCAA","b":"P5","k":4.603,"E":13.4},{"m":"VCAA","b":"P5","k":4.780,"E":12.65},{"m":"VCAA","b":"P5","k":5.046,"E":12.3},

      {"m":"VCAA","b":"AL","k":0.054,"E":-13.6},{"m":"VCAA","b":"AL","k":0.054,"E":6.6},
      {"m":"VCAA","b":"AR","k":5.046,"E":-4.05},{"m":"VCAA","b":"AR","k":5.046,"E":12.3}
    ]
  },
  "resolve": {"axis": {"x": "independent", "y": "independent"}},
  "layer": [
    {
      "data": {"name": "bands"},
      "mark": {"type": "line", "strokeWidth": 4, "strokeCap": "butt", "strokeJoin": "round"},
      "encoding": {
        "x": {
          "field": "k", "type": "quantitative",
          "scale": {"domain": [0.054, 5.046], "nice": false, "zero": false},
          "axis": {
            "orient": "bottom", "title": null, "labels": false, "grid": false,
            "values": [0.5, 1, 1.5, 2, 2.5, 3, 3.5, 4, 4.5, 5],
            "tickSize": {"condition": {"test": "datum.value % 1 == 0", "value": -14}, "value": -7},
            "tickWidth": 3, "tickColor": "black",
            "domainWidth": 3.5, "domainColor": "black"
          }
        },
        "y": {
          "field": "E", "type": "quantitative",
          "scale": {"domain": [-15, 24], "nice": false, "zero": false},
          "axis": {
            "orient": "left",
            "title": "Electron Energy (eV)",
            "titleFont": "Liberation Sans", "titleFontSize": 42, "titleFontWeight": "normal", "titleColor": "black",
            "titleX": -115, "titleY": 313, "titleAngle": 270, "titleAlign": "center", "titleBaseline": "alphabetic",
            "values": [-15, -13.5, -12, -10.5, -9, -7.5, -6, -4.5, -3, -1.5, 0, 1.5, 3, 4.5, 6, 7.5, 9, 10.5, 12, 13.5, 15, 16.5, 18, 19.5, 21, 22.5, 24],
            "labelExpr": "datum.value % 3 == 0 ? '' + datum.value : ''",
            "labelFont": "Liberation Sans", "labelFontSize": 34, "labelColor": "black",
            "labelPadding": 11, "labelAlign": "right", "labelBaseline": "middle",
            "labelOverlap": false, "labelBound": false, "labelFlush": false,
            "tickSize": {"condition": {"test": "datum.value % 3 == 0", "value": 14}, "value": 8},
            "tickWidth": 3, "tickColor": "black",
            "domainWidth": 3.5, "domainColor": "black", "grid": false
          }
        },
        "detail": {"field": "b", "type": "nominal"},
        "color": {
          "field": "m", "type": "nominal",
          "scale": {"domain": ["VCA", "VCAA"], "range": ["#1010e8", "#f2197f"]},
          "legend": {
            "orient": "none", "legendX": 536, "legendY": 8, "title": null, "padding": 0,
            "symbolType": "M-2.5,0H2.5", "symbolSize": 1600, "symbolStrokeWidth": 4,
            "labelFont": "Liberation Sans", "labelFontSize": 41, "labelColor": "black",
            "labelOffset": 61, "rowPadding": 13
          }
        },
        "strokeDash": {
          "field": "m", "type": "nominal",
          "scale": {"domain": ["VCA", "VCAA"], "range": [[1, 0], [13, 4, 4, 4]]},
          "legend": {
            "orient": "none", "legendX": 536, "legendY": 8, "title": null, "padding": 0,
            "symbolType": "M-2.5,0H2.5", "symbolSize": 1600, "symbolStrokeWidth": 4,
            "labelFont": "Liberation Sans", "labelFontSize": 41, "labelColor": "black",
            "labelOffset": 61, "rowPadding": 13
          }
        }
      }
    },
    {
      "data": {"values": [{"k1": 0.902, "k2": 2.698, "E1": 22.77, "E2": 17.29}]},
      "mark": {"type": "rect", "fill": "black"},
      "encoding": {
        "x": {"field": "k1", "type": "quantitative", "scale": {"domain": [0.054, 5.046], "nice": false, "zero": false}, "axis": null},
        "x2": {"field": "k2"},
        "y": {"field": "E1", "type": "quantitative", "scale": {"domain": [-15, 24], "nice": false, "zero": false}, "axis": null},
        "y2": {"field": "E2"}
      }
    },
    {
      "data": {"values": [{"k1": 0.817, "k2": 2.632, "E1": 23.45, "E2": 17.98}]},
      "mark": {"type": "rect", "fill": "white", "stroke": "black", "strokeWidth": 2},
      "encoding": {
        "x": {"field": "k1", "type": "quantitative", "scale": {"domain": [0.054, 5.046], "nice": false, "zero": false}, "axis": null},
        "x2": {"field": "k2"},
        "y": {"field": "E1", "type": "quantitative", "scale": {"domain": [-15, 24], "nice": false, "zero": false}, "axis": null},
        "y2": {"field": "E2"}
      }
    },
    {
      "data": {"values": [{"s": "Be", "k": 0.981, "E": 20.37}, {"s": "Cd", "k": 1.534, "E": 20.37}, {"s": "Se", "k": 2.073, "E": 20.37}]},
      "mark": {"type": "text", "font": "Liberation Sans", "fontWeight": "bold", "fontSize": 41, "align": "left", "baseline": "alphabetic", "color": "black"},
      "encoding": {
        "x": {
          "field": "k", "type": "quantitative",
          "scale": {"domain": [0.054, 5.046], "nice": false, "zero": false},
          "axis": {
            "orient": "bottom", "domain": false, "ticks": false, "tickSize": 0, "grid": false,
            "values": [0.077, 1.016, 1.548, 2.553, 3.545, 4.544, 5.010],
            "labelExpr": "datum.value < 0.5 ? 'Γ' : datum.value < 1.3 ? 'X' : datum.value < 2 ? 'W' : datum.value < 3 ? 'L' : datum.value < 4 ? 'Γ' : datum.value < 4.8 ? 'K' : 'X'",
            "labelFont": {"condition": {"test": "datum.value < 0.5 || (datum.value > 3 && datum.value < 4)", "value": "Liberation Serif"}, "value": "Liberation Sans"},
            "labelFontSize": 39, "labelColor": "black", "labelPadding": 45,
            "labelBaseline": "alphabetic", "labelAlign": "center",
            "labelOverlap": false, "labelBound": false, "labelFlush": false,
            "title": "Wave Vector", "titleFont": "Liberation Sans", "titleFontSize": 42, "titleFontWeight": "normal", "titleColor": "black",
            "titleX": 380, "titleY": 101, "titleBaseline": "alphabetic", "titleAlign": "center"
          }
        },
        "y": {"field": "E", "type": "quantitative", "scale": {"domain": [-15, 24], "nice": false, "zero": false}, "axis": null},
        "text": {"field": "s"}
      }
    },
    {
      "data": {"values": [{"s": "0.1", "k": 1.369, "E": 19.0}, {"s": "0.9", "k": 1.902, "E": 19.0}]},
      "mark": {"type": "text", "font": "Liberation Sans", "fontWeight": "bold", "fontSize": 21, "align": "left", "baseline": "alphabetic", "color": "black"},
      "encoding": {
        "x": {"field": "k", "type": "quantitative", "scale": {"domain": [0.054, 5.046], "nice": false, "zero": false}, "axis": null},
        "y": {"field": "E", "type": "quantitative", "scale": {"domain": [-15, 24], "nice": false, "zero": false}, "axis": null},
        "text": {"field": "s"}
      }
    }
  ]
}
